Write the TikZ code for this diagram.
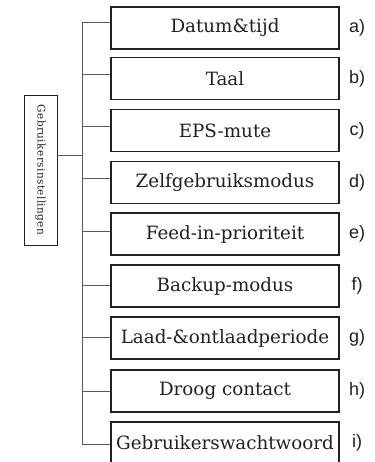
\documentclass[tikz,border=0pt]{standalone}
\usepackage{fontspec}
\setmainfont{DejaVu Serif}
\newfontfamily\labelfont{Liberation Sans}
\newfontfamily\spacedfont[LetterSpace=4]{DejaVu Serif}
\definecolor{ink}{HTML}{231F20}
\definecolor{wire}{HTML}{5A5A5A}
\begin{document}
\begin{tikzpicture}[x=1pt,y=-1pt,
  itembox/.style={draw=ink,line width=1.8pt,minimum width=228pt,minimum height=42pt,inner sep=0pt,text=ink,font=\fontsize{18.3}{21}\selectfont},
  rootbox/.style={draw=ink,line width=0.9pt,minimum width=33pt,minimum height=150pt,inner sep=0pt},
  wireline/.style={draw=wire,line width=1pt},
  tag/.style={text=ink,font=\labelfont\fontsize{18}{21}\selectfont,anchor=center}]
\useasboundingbox (0,0) rectangle (374,462);
\node[rootbox] (root) at (40.5,170) {};
\node[rotate=-90,text=ink,font=\spacedfont\fontsize{10.5}{12}\selectfont] (roottext) at (root.center) {Gebruikersinstellingen};
\foreach \n/\y/\t/\l/\o in {
  a/28/{Datum\&tijd}/a)/5,
  b/78.5/{Taal}/b)/3.5,
  c/130.5/{EPS-mute}/c)/3.5,
  d/182.5/{Zelfgebruiksmodus}/d)/3.5,
  e/234/{Feed-in-prioriteit}/e)/3,
  f/286/{Backup-modus}/f)/1,
  g/338/{Laad-\&ontlaadperiode}/g)/1,
  h/391/{Droog contact}/h)/0,
  i/443/{Gebruikerswachtwoord}/i)/-1}{
  \node[itembox] (\n) at (225,\y) {\t};
  \node[tag] (t\n) at (357,\y) {\l};
  \coordinate (j\n) at ([yshift=\o pt]\n.west);
  \coordinate (k\n) at ([xshift=-28pt]j\n);
  \draw[wireline] (j\n) -- (k\n);
}
\draw[wireline] (ka) -- (ki);
\coordinate (kroot) at (ka |- 0,156);
\draw[wireline] (root.east |- kroot) -- (kroot);
\end{tikzpicture}
\end{document}
